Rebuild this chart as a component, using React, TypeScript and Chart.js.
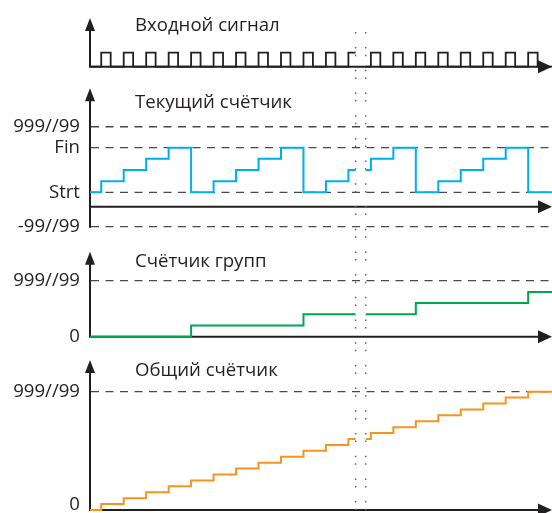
import React, { useEffect, useRef } from 'react';
import { Chart, registerables } from 'chart.js';

Chart.register(...registerables);

// ---------- data ----------
// time in clock periods; clock rising edges (counter updates happen here)
const clockEdges = [0.5, 1.5, 2.5, 3.5, 4.5, 5.5, 6.5, 7.5, 8.5, 9.5, 10.5, 11.5, 12.5, 13.5, 14.5, 15.5, 16.5, 17.5, 18.5, 19.5];
const pulseWidth = 0.42;
// counter value on each interval (before first edge, after each edge)
const currentCounter = [0, 1, 2, 3, 4, 0, 1, 2, 3, 4, 0, 1, 2, 3, 4, 0, 1, 2, 3, 4, 0];
const groupCounter = [0, 0, 0, 0, 0, 1, 1, 1, 1, 1, 2, 2, 2, 2, 2, 3, 3, 3, 3, 3, 4];
const totalCounter = [0, 1, 2, 3, 4, 5, 6, 7, 8, 9, 10, 11, 12, 13, 14, 15, 16, 17, 18, 19, 20];

const timeMax = 20.56;
const breakStart = 11.82;
const breakEnd = 12.27;

const titles = ['Входной сигнал', 'Текущий счётчик', 'Счётчик групп', 'Общий счётчик'];
const currentTickValues = [5.88, 4, 0, -3.08];
const currentTickLabels = ['999//99', 'Fin', 'Strt', '-99//99'];
const groupTickValues = [5, 0];
const groupTickLabels = ['999//99', '0'];
const totalTickValues = [20, 0];
const totalTickLabels = ['999//99', '0'];

// ---------- layout / style ----------
const W = 552;
const H = 513;
const AXIS_X = 90;
const FONT = '18.6px "Open Sans", "Noto Sans", sans-serif';
const INK = '#231f20';

type Panel = {
  id: string; top: number; bottom: number; zeroPx: number; unitPx: number; tipPx: number;
  titleBase: number; axisValue: number; bottomValue: number;
  ticks: number[]; labels: string[]; dashed: number[];
};

const PANELS: Panel[] = [
  { id: 'yIn', top: 0, bottom: 80, zeroPx: 66.7, unitPx: 14, tipPx: 18, titleBase: 31, axisValue: 0, bottomValue: 0, ticks: [], labels: [], dashed: [] },
  { id: 'yCur', top: 80, bottom: 240, zeroPx: 192.3, unitPx: 11.15, tipPx: 88.3, titleBase: 108.3, axisValue: -1.29, bottomValue: -3.08, ticks: currentTickValues, labels: currentTickLabels, dashed: currentTickValues },
  { id: 'yGrp', top: 240, bottom: 350, zeroPx: 336.7, unitPx: 11.2, tipPx: 251.7, titleBase: 267, axisValue: 0, bottomValue: 0, ticks: groupTickValues, labels: groupTickLabels, dashed: [5] },
  { id: 'yTot', top: 350, bottom: 513, zeroPx: 510, unitPx: 5.915, tipPx: 360, titleBase: 376, axisValue: 0, bottomValue: 0, ticks: totalTickValues, labels: totalTickLabels, dashed: [20] },
];

function stepSeries(times: number[], values: number[]) {
  const valueAt = (t: number) => {
    let v = values[0];
    for (let i = 0; i < times.length; i++) if (t >= times[i]) v = values[i + 1];
    return v;
  };
  const xs = [0, ...times, breakStart, breakEnd, timeMax].sort((a, b) => a - b);
  const pts: { x: number; y: number | null }[] = [];
  for (const x of xs) {
    if (x > breakStart && x < breakEnd) continue;
    pts.push({ x, y: valueAt(x) });
    if (x === breakStart) pts.push({ x: (breakStart + breakEnd) / 2, y: null });
  }
  return pts;
}

const pulseTimes: number[] = [];
const pulseValues: number[] = [0];
clockEdges.forEach((t) => {
  pulseTimes.push(t, t + pulseWidth);
  pulseValues.push(1, 0);
});

const decor = {
  id: 'decor',
  beforeDatasetsDraw(chart: any) {
    const ctx: CanvasRenderingContext2D = chart.ctx;
    const right = chart.width;
    ctx.save();
    for (let i = 0; i < PANELS.length; i++) {
      const p = PANELS[i];
      const ys = chart.scales[p.id];
      // dashed reference lines
      ctx.setLineDash([8, 6.5]);
      ctx.strokeStyle = '#4a4a4a';
      ctx.lineWidth = 1.3;
      p.dashed.forEach((v) => {
        const y = ys.getPixelForValue(v);
        ctx.beginPath();
        ctx.moveTo(AXIS_X + 1, y);
        ctx.lineTo(right, y);
        ctx.stroke();
      });
      ctx.setLineDash([]);
      // axes
      const axisY = ys.getPixelForValue(p.axisValue);
      const bottomY = Math.max(axisY, ys.getPixelForValue(p.bottomValue)) + 1;
      ctx.strokeStyle = INK;
      ctx.fillStyle = INK;
      ctx.lineWidth = 2;
      ctx.beginPath();
      ctx.moveTo(AXIS_X, p.tipPx + 10);
      ctx.lineTo(AXIS_X, bottomY);
      ctx.moveTo(AXIS_X - 1, axisY);
      ctx.lineTo(right - 12, axisY);
      ctx.stroke();
      // arrowheads
      ctx.beginPath();
      ctx.moveTo(AXIS_X, p.tipPx);
      ctx.lineTo(AXIS_X - 5, p.tipPx + 13);
      ctx.lineTo(AXIS_X + 5, p.tipPx + 13);
      ctx.closePath();
      ctx.fill();
      ctx.beginPath();
      ctx.moveTo(right, axisY);
      ctx.lineTo(right - 14, axisY - 6.5);
      ctx.lineTo(right - 14, axisY + 6.5);
      ctx.closePath();
      ctx.fill();
      // title
      ctx.font = FONT;
      ctx.textAlign = 'left';
      ctx.textBaseline = 'alphabetic';
      ctx.fillText(titles[i], 135, p.titleBase);
      // tick labels
      ctx.textAlign = 'right';
      p.ticks.forEach((v, k) => {
        const y = Math.min(ys.getPixelForValue(v) + 5.5, H - 3);
        ctx.fillText(p.labels[k], 80, y);
      });
    }
    // dotted break lines
    const xs = chart.scales.x;
    ctx.strokeStyle = '#666';
    ctx.lineWidth = 1.5;
    ctx.setLineDash([1.5, 6.1, 1.5, 13.6]);
    ctx.lineDashOffset = 7.6;
    [breakStart, breakEnd].forEach((t) => {
      const x = xs.getPixelForValue(t);
      ctx.beginPath();
      ctx.moveTo(x, 32);
      ctx.lineTo(x, H);
      ctx.stroke();
    });
    ctx.restore();
  },
};

function lineDs(data: any[], color: string, axis: string, width = 2) {
  return {
    data,
    borderColor: color,
    borderWidth: width,
    pointRadius: 0,
    fill: false,
    stepped: true,
    spanGaps: false,
    clip: false as any,
    tension: 0,
    yAxisID: axis,
    xAxisID: 'x',
  };
}

export default function App() {
  const ref = useRef<HTMLCanvasElement>(null);
  useEffect(() => {
    const scales: any = {
      x: { type: 'linear', min: 0, max: timeMax, display: false },
    };
    // Chart.js stacks left axes bottom-up in definition order, so define the lowest panel first
    [...PANELS].reverse().forEach((p) => {
      scales[p.id] = {
        type: 'linear',
        position: 'left',
        stack: 'panels',
        stackWeight: p.bottom - p.top,
        min: (p.zeroPx - p.bottom) / p.unitPx,
        max: (p.zeroPx - p.top) / p.unitPx,
        display: false,
      };
    });
    const chart = new Chart(ref.current as HTMLCanvasElement, {
      type: 'line',
      data: {
        datasets: [
          lineDs(stepSeries(pulseTimes, pulseValues), INK, 'yIn', 1.8),
          lineDs(stepSeries(clockEdges, currentCounter), '#00aeef', 'yCur'),
          lineDs(stepSeries(clockEdges, groupCounter), '#00a651', 'yGrp'),
          lineDs(stepSeries(clockEdges, totalCounter), '#f7941d', 'yTot'),
        ] as any,
      },
      options: {
        responsive: false,
        animation: false,
        events: [],
        layout: { padding: { left: AXIS_X, right: 0, top: 0, bottom: 0 } },
        plugins: { legend: { display: false }, tooltip: { enabled: false }, title: { display: false } },
        scales,
      },
      plugins: [decor],
    });
    return () => chart.destroy();
  }, []);
  return (
    <div style={{ position: 'absolute', left: 0, top: 0, width: W, height: H, background: '#fff' }}>
      <canvas ref={ref} width={W} height={H} style={{ display: 'block' }} />
    </div>
  );
}
